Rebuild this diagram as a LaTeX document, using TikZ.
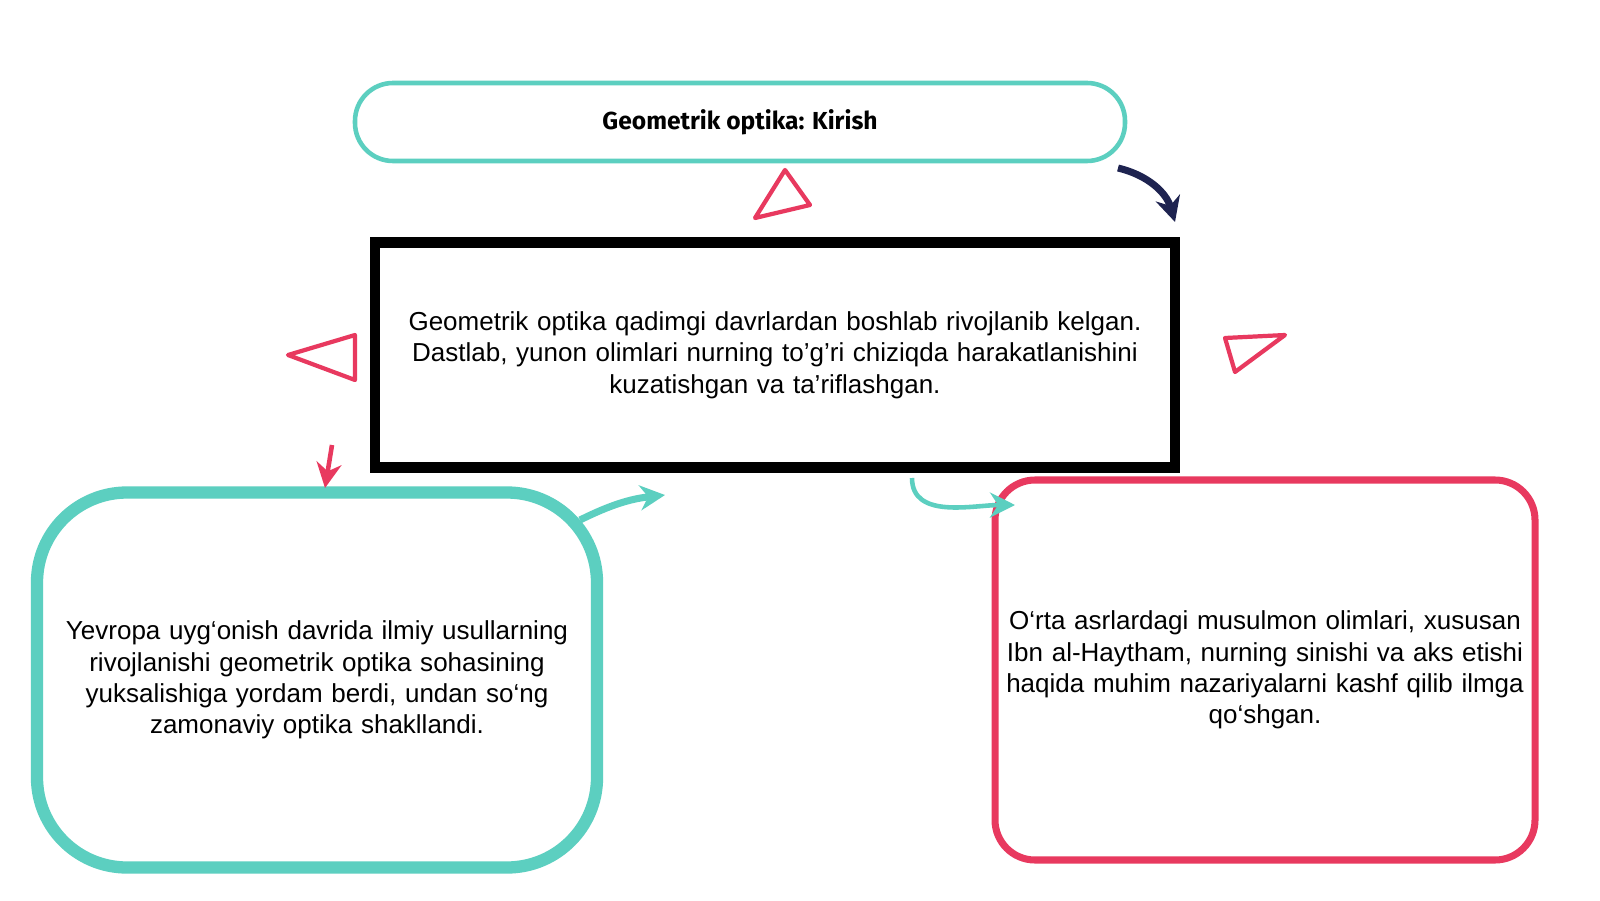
\documentclass[tikz,border=0pt]{standalone}
\usepackage{fontspec}
\setmainfont{Liberation Sans}
\newfontfamily\headfont{Fira Sans}
\usetikzlibrary{positioning,arrows.meta}
\definecolor{teal}{HTML}{5CCFC0}
\definecolor{rose}{HTML}{E8395F}
\definecolor{navy}{HTML}{1E2350}
\begin{document}
\begin{tikzpicture}[font=\fontsize{7.4}{8.9}\selectfont]

\tikzset{
	box/.style = {draw, align=center, inner sep=0pt},
	tri/.style = {draw=rose, line width=1.2pt, fill=white, line join=round},
	link/.style = {line width=1.3pt, -{Stealth[length=2.5mm,width=2.5mm]}}
};
\useasboundingbox[fill=white] (0,0) rectangle (16,9);

\node[box,draw=teal,line width=1.3pt,rounded corners=3.8mm,
	minimum width=7.7cm,minimum height=0.78cm,font=\headfont\bfseries\fontsize{7}{9}\selectfont]
	(title) at (7.40,7.78) {Geometrik optika: Kirish};
\node[box,draw=black,line width=3pt,
	minimum width=8.0cm,minimum height=2.25cm,text width=7.9cm]
	(main) at (7.75,5.45) {Geometrik optika qadimgi davrlardan boshlab rivojlanib kelgan.\\
	Dastlab, yunon olimlari nurning to'g'ri chiziqda harakatlanishini\\
	kuzatishgan va ta'riflashgan.};
\node[box,draw=teal,line width=3.5pt,rounded corners=9mm,
	minimum width=5.6cm,minimum height=3.75cm,text width=5.5cm]
	(europe) at (3.17,2.2) {Yevropa uyg‘onish davrida ilmiy usullarning\\
	rivojlanishi geometrik optika sohasining\\
	yuksalishiga yordam berdi, undan so‘ng\\
	zamonaviy optika shakllandi.};
\node[box,draw=rose,line width=2pt,rounded corners=4mm,
	minimum width=5.4cm,minimum height=3.8cm,text width=5.4cm]
	(islam) at (12.65,2.3) {O‘rta asrlardagi musulmon olimlari, xususan\\
	Ibn al-Haytham, nurning sinishi va aks etishi\\
	haqida muhim nazariyalarni kashf qilib ilmga\\
	qo‘shgan.};

% pointer triangles
\draw[tri] (7.55,6.82) -- (7.85,7.30) -- (8.10,6.95) -- cycle;
\draw[tri] (2.88,5.45) -- (3.55,5.65) -- (3.55,5.20) -- cycle;
\draw[tri] (12.25,5.62) -- (12.85,5.65) -- (12.35,5.28) -- cycle;

% arrows
\coordinate (a1) at (11.18,7.32);
\coordinate (a2) at (11.75,6.78);
\draw[link,navy,line width=2pt] (a1) to[bend left=30] (a2);
\coordinate (b1) at (3.32,4.55);
\coordinate (b2) at (3.25,4.12);
\draw[link,rose] (b1) -- (b2);
\coordinate (c1) at (5.80,3.80);
\coordinate (c2) at (6.65,4.05);
\draw[link,teal,line width=2pt] (c1) to[bend left=10] (c2);
\coordinate (d1) at (9.12,4.22);
\coordinate (d2) at (10.15,3.95);
\draw[link,teal] (d1) to[out=-90,in=180] (d2);

\end{tikzpicture}
\end{document}
